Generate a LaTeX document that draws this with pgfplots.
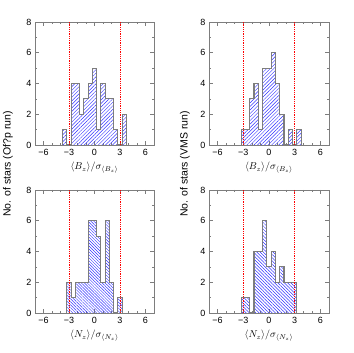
\documentclass[border=0pt]{standalone}
\usepackage{fontspec}
\setmainfont{Liberation Sans}
\usepackage{pgfplots}
\pgfplotsset{compat=1.18}
\usetikzlibrary{patterns.meta}

\definecolor{framegray}{RGB}{125,125,125}
\definecolor{hatchblue}{RGB}{50,50,255}
\definecolor{sigred}{RGB}{255,0,0}

\pgfplotsset{
  histax/.style={
    scale only axis, width=119pt, height=123pt,
    xmin=-7, xmax=7, ymin=0, ymax=8,
    xtick={-6,-3,0,3,6}, xticklabels={−6,−3,0,3,6},
    ytick={0,2,4,6,8},
    minor xtick={-5,-4,-2,-1,1,2,4,5}, minor ytick={1,3,5,7},
    tick align=inside, major tick length=4pt, minor tick length=2pt,
    tick style={framegray, line width=0.6pt},
    axis line style={framegray, line width=0.8pt},
    tick label style={font=\fontsize{9}{10}\selectfont},
    /pgf/number format/assume math mode=true,
    xticklabel style={yshift=-1pt},
    every axis x label/.style={at={(axis description cs:0.5,0)}, anchor=center, yshift=-23pt, font=\fontsize{10}{12}\selectfont},
    unbounded coords=jump,
  },
  hist/.style={const plot, draw=framegray, line width=1.1pt,
    pattern={Lines[angle=#1, distance=2.5pt, line width=0.45pt]}, pattern color=hatchblue},
  sigline/.style={draw=sigred, dash pattern=on 0.7pt off 1.1pt, line width=0.7pt},
}

\begin{document}
\begin{tikzpicture}
\path[use as bounding box] (0pt,0pt) rectangle (354pt,353pt);

% top left: Of?p run, B_z
\begin{axis}[histax, at={(35pt,208pt)}, anchor=south west,
  xlabel={$\langle B_z\rangle/\sigma_{\langle B_z\rangle}$}]
\addplot[hist=45] coordinates {
(-3.75,0)(-3.75,1)(-3.25,0)(-2.75,4)(-2.25,4)(-1.75,2)(-1.25,3)(-0.75,4)
(-0.25,5)(0.25,1)(0.75,4)(1.25,3)(1.75,3)(2.25,1)(2.75,0)(3.25,2)(3.75,0)
};
\addplot[sigline] coordinates {(-3,0)(-3,8)(0,nan)(3,0)(3,8)};
\end{axis}

% top right: VMS run, B_z
\begin{axis}[histax, at={(209pt,208pt)}, anchor=south west, width=120pt,
  xlabel={$\langle B_z\rangle/\sigma_{\langle B_z\rangle}$}]
\addplot[hist=45] coordinates {
(-3.25,0)(-3.25,1)(-2.75,1)(-2.25,3)(-1.75,4)(-1.25,1)(-0.75,5)(-0.25,5)
(0.25,6)(0.75,4)(1.25,2)(1.75,0)(2.25,1)(2.75,0)(3.25,1)(3.75,0)
};
\addplot[sigline] coordinates {(-3,0)(-3,8)(0,nan)(3,0)(3,8)};
\end{axis}

% bottom left: Of?p run, N_z
\begin{axis}[histax, at={(35pt,40pt)}, anchor=south west,
  xlabel={$\langle N_z\rangle/\sigma_{\langle N_z\rangle}$}]
\addplot[hist=-45, pattern={Lines[angle=-45, distance=2.1pt, line width=0.45pt]}] coordinates {
(-3.25,0)(-3.25,2)(-2.75,1)(-2.25,2)(-1.75,2)(-1.25,2)(-0.75,6)(-0.25,6)
(0.25,5)(0.75,2)(1.25,6)(1.75,2)(2.25,0)(2.75,1)(3.25,0)
};
\addplot[sigline] coordinates {(-3,0)(-3,8)(0,nan)(3,0)(3,8)};
\end{axis}

% bottom right: VMS run, N_z
\begin{axis}[histax, at={(209pt,40pt)}, anchor=south west, width=120pt,
  xlabel={$\langle N_z\rangle/\sigma_{\langle N_z\rangle}$}]
\addplot[hist=-45, pattern={Lines[angle=-45, distance=2.3pt, line width=0.45pt]}] coordinates {
(-3.25,0)(-3.25,1)(-2.75,1)(-2.25,0)(-1.75,4)(-1.25,4)(-0.75,6)(-0.25,3)
(0.25,4)(0.75,2)(1.25,3)(1.75,2)(2.25,2)(2.75,2)(3.25,0)
};
\addplot[sigline] coordinates {(-3,0)(-3,8)(0,nan)(3,0)(3,8)};
\end{axis}

\node[rotate=90, font=\fontsize{10.5}{12}\selectfont] at (8pt,189pt) {No. of stars (Of?p run)};
\node[rotate=90, font=\fontsize{10.5}{12}\selectfont] at (185pt,189pt) {No. of stars (VMS run)};
\end{tikzpicture}
\end{document}
